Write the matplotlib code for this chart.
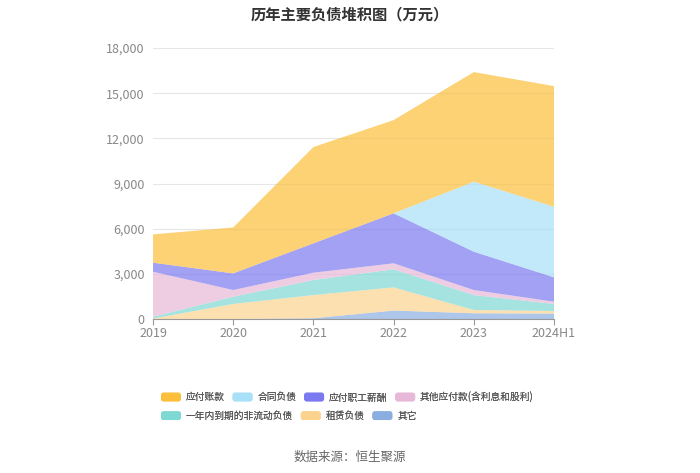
import numpy as np
import matplotlib
matplotlib.use("Agg")
import matplotlib.pyplot as plt
from matplotlib.patches import FancyBboxPatch
from matplotlib.legend_handler import HandlerPatch
from matplotlib.ticker import FuncFormatter

plt.rcParams['font.family'] = ['Noto Sans CJK SC', 'DejaVu Sans']

years = ["2019", "2020", "2021", "2022", "2023", "2024H1"]
# 万元
other = [0, 0, 50, 560, 380, 360]
lease = [30, 1000, 1540, 1540, 220, 170]
current_noncurrent = [120, 480, 1000, 1200, 990, 470]
other_payables = [2990, 445, 485, 400, 335, 150]
payroll = [600, 1105, 1950, 3320, 2545, 1620]
contract = [0, 0, 0, 0, 4650, 4690]
payables = [1880, 3050, 6395, 6190, 7280, 8010]

series = [other, lease, current_noncurrent, other_payables, payroll, contract, payables]
names = ["其它", "租赁负债", "一年内到期的非流动负债", "其他应付款(含利息和股利)",
         "应付职工薪酬", "合同负债", "应付账款"]
colors = ["#8aaee0", "#fbd38f", "#7ed8d4", "#e8b8d8", "#7b79f0", "#a8e0f8", "#fbbf3b"]

fig = plt.figure(figsize=(7, 4.73), dpi=100)
ax = fig.add_axes([153/700, 1-319/473, (554-153)/700, (319-48)/473])

x = np.arange(len(years))
ax.stackplot(x, *series, colors=colors, alpha=0.7, linewidth=0)

ax.set_xlim(0, len(years)-1)
ax.set_ylim(0, 18000)
ax.set_yticks(np.arange(0, 18001, 3000))
ax.yaxis.set_major_formatter(FuncFormatter(lambda v, p: f"{int(v):,}"))
ax.set_xticks(x)
ax.set_xticklabels(years)
ax.grid(axis='y', color='#e6e6e6', linewidth=0.8)
ax.set_axisbelow(True)
for s in ['top', 'right', 'left']:
    ax.spines[s].set_visible(False)
ax.spines['bottom'].set_color('#999999')
ax.tick_params(axis='y', length=0, labelsize=9, colors='#888888', pad=6)
ax.tick_params(axis='x', length=4, color='#999999', labelsize=9, labelcolor='#888888', pad=2)

fig.text(0.5, 1-14/473, "历年主要负债堆积图（万元）", ha='center', va='center',
         fontsize=11, fontweight='bold', color='#333333')


class RoundHandler(HandlerPatch):
    def create_artists(self, legend, orig_handle, xdescent, ydescent, width, height, fontsize, trans):
        p = FancyBboxPatch((-xdescent, -ydescent), width, height,
                           boxstyle="round,pad=0,rounding_size=%f" % (height * 0.3),
                           facecolor=orig_handle.get_facecolor(), edgecolor='none', transform=trans)
        return [p]


# legend drawn as two flowing rows
order = [6, 5, 4, 3, 2, 1, 0]
rows = [order[:4], order[4:]]
ys = [1-397/473, 1-416/473]
for r, yy in zip(rows, ys):
    hs = [plt.Rectangle((0, 0), 1, 1, facecolor=colors[i], edgecolor='none') for i in r]
    leg = fig.legend(hs, [names[i] for i in r], loc='center left', bbox_to_anchor=(161/700, yy),
                     ncol=len(r), frameon=False, fontsize=7, handlelength=2.05, handleheight=1.0,
                     columnspacing=0.8, handletextpad=0.5, borderaxespad=0, borderpad=0,
                     handler_map={plt.Rectangle: RoundHandler()})
    for t in leg.get_texts():
        t.set_color('#555555')
    fig.add_artist(leg)

fig.text(0.5, 1-457/473, "数据来源：恒生聚源", ha='center', va='center', fontsize=9, color='#666666')

fig.savefig("out.png", dpi=100, facecolor='white')
